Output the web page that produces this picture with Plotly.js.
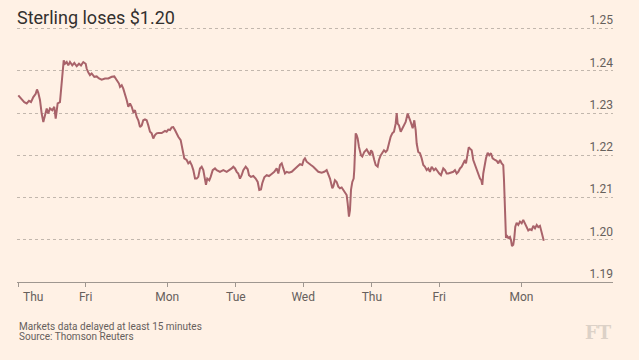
<!DOCTYPE html>
<html>
<head>
<meta charset="utf-8">
<script src="https://cdn.plot.ly/plotly-3.0.1.min.js"></script>
<style>
html,body{margin:0;padding:0;background:#fff1e5;}
#chart{width:639px;height:360px;}
</style>
</head>
<body>
<div id="chart"></div>
<script>
// Trading-time index (days since first Thursday open, weekends compressed)
const timeIdx = [
0,0.025,0.059,0.088,0.124,0.157,0.187,0.221,0.256,0.275,0.294,0.319,0.344,0.368,0.393,0.418,0.441,0.466,0.5,0.529,0.55,0.579,0.613,0.638,0.653,0.668,0.687,0.712,0.735,0.76,0.794,0.824,0.859,0.893,0.922,0.956,0.991,
1.006,1.029,1.054,1.079,1.118,1.153,1.187,1.226,1.275,1.324,1.374,1.412,1.447,1.481,1.496,1.521,1.544,1.569,1.594,1.618,1.643,1.668,1.691,1.716,1.741,1.765,1.79,1.815,1.838,1.863,1.888,1.912,1.937,1.962,1.985,
2.01,2.035,2.059,2.109,2.157,2.182,2.206,2.231,2.256,2.279,2.304,2.329,2.353,2.388,2.418,2.441,2.476,2.5,2.525,2.55,2.574,2.599,2.624,2.647,2.672,2.697,2.721,2.746,2.76,2.779,2.809,2.829,2.859,2.893,2.918,2.966,
3.015,3.065,3.088,3.138,3.162,3.187,3.212,3.235,3.26,3.285,3.309,3.344,3.374,3.393,3.422,3.456,3.491,3.521,3.544,3.569,3.588,3.618,3.653,3.687,3.726,3.765,3.8,3.824,3.849,3.874,3.897,3.922,3.947,3.981,
4.021,4.069,4.109,4.143,4.176,4.197,4.216,4.241,4.265,4.304,4.338,4.374,4.412,4.462,4.5,4.535,4.559,4.584,4.618,4.632,4.657,4.682,4.706,4.731,4.756,4.779,4.804,4.829,4.844,4.853,4.863,4.878,4.893,4.912,4.932,4.941,4.951,4.962,4.976,4.991,
5.01,5.04,5.059,5.088,5.124,5.147,5.172,5.187,5.206,5.235,5.256,5.285,5.304,5.329,5.353,5.378,5.403,5.426,5.451,5.476,5.5,5.525,5.55,5.565,5.579,5.599,5.624,5.647,5.672,5.697,5.726,5.746,5.771,5.8,5.824,5.844,5.859,5.882,5.907,5.932,5.956,5.981,
6.006,6.029,6.054,6.079,6.113,6.138,6.168,6.191,6.216,6.235,6.25,6.275,6.3,6.324,6.359,6.397,6.422,6.447,6.471,6.496,6.521,6.544,6.569,6.584,6.603,6.624,6.643,6.668,6.691,6.716,6.741,6.765,6.79,6.809,6.824,6.838,6.859,6.878,6.903,6.926,6.951,6.976,
7.01,7.035,7.059,7.084,7.109,7.132,7.143,7.153,7.162,7.172,7.182,7.206,7.231,7.246,7.26,7.279,7.294,7.309,7.329,7.353,7.378,7.403,7.426,7.451,7.476,7.5,7.525,7.55,7.574,7.599,7.624,7.647,7.672,7.703,7.728
];
// GBP/USD
const gbpUsd = [
1.2342,1.2338,1.2331,1.2326,1.2323,1.2329,1.2326,1.2338,1.2346,1.2356,1.2348,1.2331,1.2299,1.2279,1.2295,1.2311,1.2299,1.2311,1.2307,1.2315,1.2287,1.2323,1.2326,1.2370,1.2409,1.2425,1.2417,1.2421,1.2413,1.2421,1.2413,1.2419,1.2411,1.2417,1.2413,1.2421,1.2417,
1.2405,1.2397,1.2390,1.2394,1.2386,1.2387,1.2382,1.2379,1.2382,1.2382,1.2386,1.2387,1.2378,1.2370,1.2362,1.2366,1.2358,1.2346,1.2331,1.2315,1.2323,1.2315,1.2303,1.2307,1.2291,1.2283,1.2267,1.2271,1.2283,1.2285,1.2283,1.2271,1.2256,1.2252,1.2240,
1.2248,1.2252,1.2253,1.2253,1.2258,1.2256,1.2261,1.2260,1.2266,1.2267,1.2260,1.2250,1.2244,1.2236,1.2212,1.2193,1.2189,1.2181,1.2185,1.2177,1.2165,1.2145,1.2145,1.2149,1.2169,1.2173,1.2165,1.2141,1.2130,1.2145,1.2141,1.2149,1.2165,1.2169,1.2165,1.2161,
1.2165,1.2161,1.2163,1.2169,1.2173,1.2169,1.2161,1.2157,1.2145,1.2153,1.2165,1.2173,1.2167,1.2153,1.2149,1.2151,1.2145,1.2137,1.2118,1.2119,1.2134,1.2148,1.2153,1.2151,1.2156,1.2161,1.2169,1.2157,1.2177,1.2181,1.2169,1.2157,1.2161,1.2159,
1.2161,1.2167,1.2174,1.2179,1.2177,1.2189,1.2193,1.2185,1.2181,1.2177,1.2173,1.2167,1.2161,1.2159,1.2161,1.2165,1.2157,1.2145,1.2122,1.2126,1.2141,1.2137,1.2126,1.2122,1.2124,1.2118,1.2114,1.2106,1.2086,1.2063,1.2055,1.2070,1.2118,1.2137,1.2145,1.2165,1.2205,1.2252,1.2248,1.2240,
1.2220,1.2200,1.2197,1.2208,1.2214,1.2208,1.2200,1.2212,1.2208,1.2189,1.2177,1.2173,1.2189,1.2200,1.2205,1.2212,1.2208,1.2212,1.2228,1.2244,1.2252,1.2256,1.2275,1.2300,1.2275,1.2271,1.2256,1.2264,1.2271,1.2279,1.2299,1.2291,1.2279,1.2264,1.2283,1.2260,1.2228,1.2208,1.2205,1.2193,1.2177,1.2173,
1.2165,1.2169,1.2161,1.2173,1.2165,1.2169,1.2161,1.2157,1.2153,1.2165,1.2169,1.2165,1.2157,1.2157,1.2159,1.2161,1.2165,1.2157,1.2161,1.2169,1.2173,1.2181,1.2189,1.2181,1.2205,1.2219,1.2216,1.2212,1.2189,1.2177,1.2169,1.2157,1.2145,1.2141,1.2130,1.2157,1.2177,1.2193,1.2206,1.2200,1.2205,1.2193,
1.2189,1.2187,1.2181,1.2189,1.2181,1.2177,1.2141,1.2078,1.2015,1.2004,1.2011,1.2004,1.2007,1.1999,1.1985,1.1988,1.2004,1.2031,1.2040,1.2035,1.2043,1.2039,1.2047,1.2039,1.2031,1.2022,1.2025,1.2023,1.2033,1.2027,1.2035,1.2030,1.2033,1.2015,1.1998
];
const dayTicks = [0, 0.99, 2.19, 3.2, 4.19, 5.2, 6.19, 7.4];
const dayLabels = ['Thu', 'Fri', 'Mon', 'Tue', 'Wed', 'Thu', 'Fri', 'Mon'];
const priceTicks = [1.19, 1.20, 1.21, 1.22, 1.23, 1.24, 1.25];
const priceLabels = ['1.19', '1.20', '1.21', '1.22', '1.23', '1.24', '1.25'];

const FONT = 'Roboto, "Open Sans", sans-serif';
const bg = '#fff1e5';
const tickFont = {family: FONT, size: 12, color: '#66605c'};
const PLOT_H = 255.7;

const trace = {
  x: timeIdx, y: gbpUsd, type: 'scatter', mode: 'lines',
  line: {color: '#a9636a', width: 2}, hoverinfo: 'skip'
};

// The first day label sits at the left plot edge, so it is drawn left-aligned
const axisLabels = dayLabels.map((d, i) => i === 0 ? '' : d);

const layout = {
  width: 639, height: 360,
  paper_bgcolor: bg, plot_bgcolor: bg,
  margin: {l: 17, r: 26, t: 26.6, b: 77.7, pad: 0},
  showlegend: false,
  title: {
    text: 'Sterling loses $1.20',
    font: {family: FONT, size: 18, color: '#33302e'},
    x: 17/639, xref: 'container', xanchor: 'left',
    y: 1 - 17.5/360, yref: 'container', yanchor: 'middle'
  },
  xaxis: {
    range: [-0.019, 8.746], fixedrange: true,
    tickmode: 'array', tickvals: dayTicks, ticktext: axisLabels,
    ticks: 'outside', ticklen: 4, tickcolor: '#9f9790', tickwidth: 1,
    showline: true, linecolor: '#9f9790', linewidth: 1,
    showgrid: false, zeroline: false,
    tickfont: tickFont
  },
  yaxis: {
    range: [1.19, 1.2504], fixedrange: true, side: 'right',
    tickmode: 'array', tickvals: priceTicks, ticktext: priceLabels,
    ticklabelposition: 'inside top', ticks: '', ticklabelstandoff: -3,
    ticklabeloverflow: 'allow',
    showgrid: true, gridcolor: '#c2b7ad', griddash: 'dot', gridwidth: 1,
    showline: false, zeroline: false,
    tickfont: tickFont
  },
  annotations: [
    {
      text: dayLabels[0],
      xref: 'x', yref: 'paper', x: dayTicks[0], y: -(297-282.3)/PLOT_H,
      xanchor: 'left', yanchor: 'middle', xshift: 2.5, showarrow: false,
      font: tickFont
    },
    {
      text: 'Markets data delayed at least 15 minutes',
      xref: 'paper', yref: 'paper', x: 0, y: -(326.7-282.3)/PLOT_H,
      xanchor: 'left', yanchor: 'middle', align: 'left', showarrow: false,
      font: {family: FONT, size: 10, color: '#66605c'}
    },
    {
      text: 'Source: Thomson Reuters',
      xref: 'paper', yref: 'paper', x: 0, y: -(337.2-282.3)/PLOT_H,
      xanchor: 'left', yanchor: 'middle', align: 'left', showarrow: false,
      font: {family: FONT, size: 10, color: '#66605c'}
    },
    {
      text: '<b>FT</b>',
      xref: 'paper', yref: 'paper', x: 1.002, y: -(333-282.3)/PLOT_H,
      xanchor: 'right', yanchor: 'middle', showarrow: false,
      font: {family: '"DejaVu Serif", "Liberation Serif", serif', size: 18, color: '#dcd1c7'}
    }
  ]
};

Plotly.newPlot('chart', [trace], layout, {displayModeBar: false, staticPlot: true});
</script>
</body>
</html>
